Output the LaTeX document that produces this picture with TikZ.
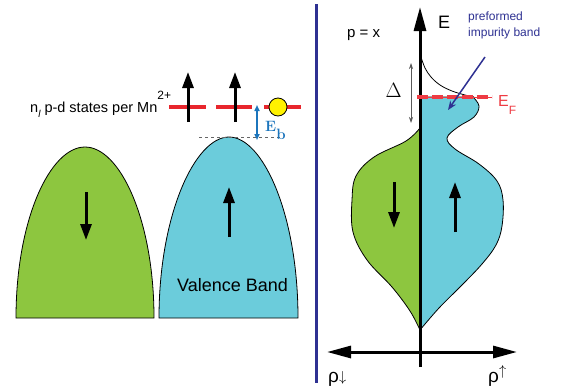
\documentclass[tikz,border=0pt]{standalone}
\usepackage{fontspec}
\setsansfont{Liberation Sans}
\usetikzlibrary{arrows.meta}
\definecolor{bandgreen}{HTML}{8DC63F}
\definecolor{bandblue}{HTML}{6BCCDB}
\definecolor{levelred}{HTML}{E8262D}
\definecolor{fermired}{HTML}{EE3B43}
\definecolor{divnavy}{HTML}{2E3192}
\definecolor{ebblue}{HTML}{1C75BC}
\definecolor{dotyellow}{HTML}{FFF200}

\begin{document}
\begin{tikzpicture}[x=1pt, y=-1pt, font=\sffamily,
  band/.style={draw=black, line width=0.8pt},
  spin/.style={line width=3pt, -{Triangle[length=16pt, width=11pt]}},
  levelbar/.style={levelred, line width=4pt},
  axis/.style={line width=3pt, -{Triangle[length=24pt, width=12pt]}},
  lbl/.style={inner sep=0pt, anchor=base west}
]
  \useasboundingbox (0,0) rectangle (564,389);

  % left panel: spin split valence bands
  \draw[band, fill=bandgreen] (16,318) .. controls (16,220) and (50,147) .. (85,147)
    .. controls (120,147) and (154,220) .. (154,318) -- cycle;
  \draw[band, fill=bandblue] (159,318) .. controls (159,215) and (195,137) .. (229,137)
    .. controls (263,137) and (298,215) .. (298,318) -- cycle;
  \draw[spin] (86,192) -- (86,240);
  \draw[spin] (229,237) -- (229,187);
  \node[lbl, font=\sffamily\fontsize{18}{20}\selectfont] (vb) at (177,291) {Valence Band};

  % impurity levels
  \draw[dashed, gray!80!black, line width=0.6pt] (199,137) -- (282,137);
  \draw[levelbar] (169,107) -- (206,107);
  \draw[levelbar] (216,107) -- (252,107);
  \draw[levelbar] (264,107) -- (301,107);
  \draw[spin] (188,122) -- (188,72);
  \draw[spin] (235,122) -- (235,72);
  \node[circle, draw=black, line width=0.8pt, fill=dotyellow, minimum size=18pt, inner sep=0pt] (hole) at (278,107) {};
  \draw[ebblue, line width=1.5pt, {Triangle[length=6pt, width=5pt]}-{Triangle[length=6pt, width=5pt]}] (257,105) -- (257,140);
  \node[lbl, text=ebblue, font=\rmfamily\bfseries\fontsize{15}{16}\selectfont] (ebtext) at (265,131) {E\raisebox{-8.5pt}{b}};
  \node[lbl, font=\sffamily\fontsize{14.5}{16}\selectfont] (pdtext) at (30,112)
    {n\raisebox{-5pt}{\fontsize{10}{10}\selectfont\itshape l} p-d states per Mn\raisebox{13pt}{\fontsize{12}{12}\selectfont 2+}};

  % divider
  \draw[divnavy, line width=3pt] (316,4) -- (316,383);

  % right panel: density of states
  \draw[band, fill=bandgreen] plot[smooth, tension=0.6] coordinates {(420,128) (406,141) (374,157) (356,176) (352,200)
    (353,232) (367,260) (392,287) (410,311) (420,330)} -- cycle;
  \draw[band, fill=bandblue] (420,330) -- (420,97) -- (473,97) -- plot[smooth, tension=0.6] coordinates {(473,97) (479,106)
    (474,117) (458,127) (447,138) (455,149) (479,164) (497,181) (503,200) (502,226) (496,245) (482,264)
    (462,285) (439,308) (420,330)} -- cycle;
  \draw[line width=0.8pt] plot[smooth, tension=0.6] coordinates {(421,57) (425,68) (431,77) (440,85) (452,91) (465,95) (474,97)};
  \draw[spin] (394,182) -- (394,228);
  \draw[spin] (455,232) -- (455,182);

  \draw[axis] (420,367) -- (420,7);
  \draw[axis, {Triangle[length=24pt, width=12pt]}-{Triangle[length=24pt, width=12pt]}] (327,352) -- (517,352);

  \draw[fermired, line width=0.8pt] (417,97) -- (492,97);
  \draw[fermired, line width=4pt, dash pattern=on 11pt off 4pt] (417,97) -- (492,97);

  \draw[gray!70!black, line width=0.7pt, {Stealth[length=6pt, width=4pt]}-{Stealth[length=6pt, width=4pt]}] (411,63) -- (411,123);

  \node[lbl, font=\sffamily\fontsize{18}{20}\selectfont] (elabel) at (438,28) {E};
  \node[lbl, font=\sffamily\fontsize{15}{16}\selectfont] (pxlabel) at (347,37) {p = x};
  \node[inner sep=0pt, font=\fontsize{21}{22}\selectfont] (deltalabel) at (393.5,90) {$\Delta$};
  \node[lbl, text=fermired, font=\sffamily\fontsize{16}{18}\selectfont] (eflabel) at (498,106)
    {E\raisebox{-8pt}{\fontsize{12}{12}\selectfont F}};
  \node[lbl, text=divnavy, align=left, font=\sffamily\fontsize{12}{16}\selectfont] (impurity) at (468,36)
    {preformed\\impurity band};
  \coordinate (ibtail) at (485,57);
  \coordinate (ibhead) at (448,110);
  \draw[divnavy, line width=1.5pt, -{Stealth[length=9pt, width=7pt]}] (ibtail) -- (ibhead);

  \node[lbl, font=\sffamily\fontsize{19}{20}\selectfont] (rhodn) at (328,382) {ρ\raisebox{1pt}{$\scriptstyle\downarrow$}};
  \node[lbl, font=\sffamily\fontsize{19}{20}\selectfont] (rhoup) at (488,382) {ρ\raisebox{7pt}{$\scriptstyle\uparrow$}};
\end{tikzpicture}
\end{document}
